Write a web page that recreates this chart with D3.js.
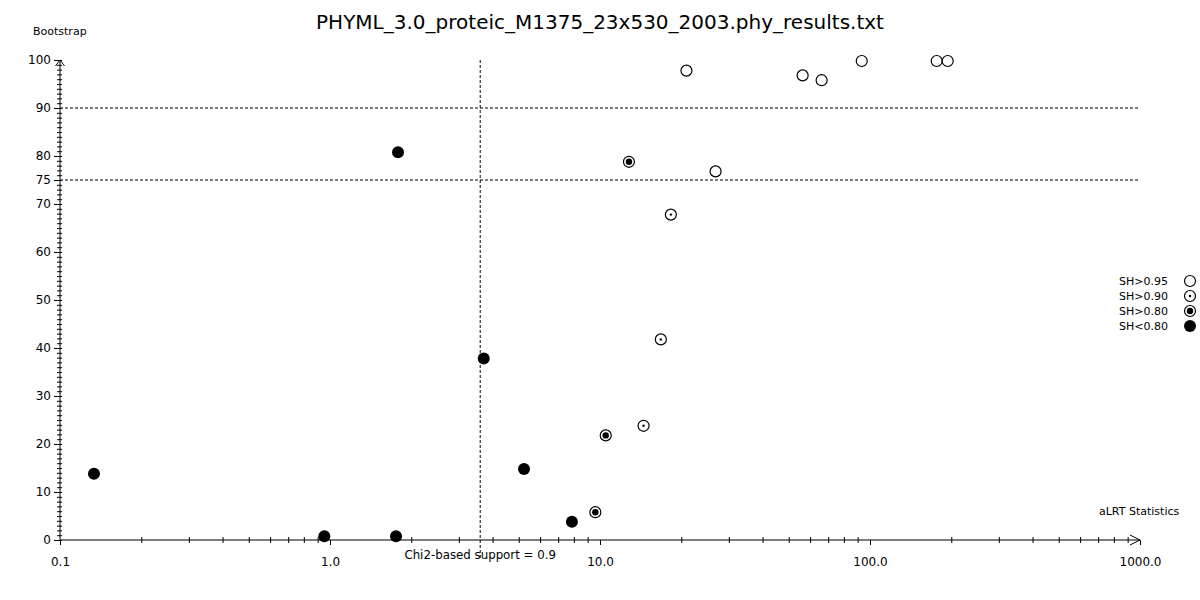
<!DOCTYPE html>
<html>
<head>
<meta charset="utf-8">
<script src="https://cdn.jsdelivr.net/npm/d3@7"></script>
<style>
  body { margin: 0; background: #fff; }
  text { font-family: "DejaVu Sans", sans-serif; fill: #000; }
</style>
</head>
<body>
<div id="chart"></div>
<script>
// data
const title = "PHYML_3.0_proteic_M1375_23x530_2003.phy_results.txt";
const classes = ["SH>0.95", "SH>0.90", "SH>0.80", "SH<0.80"];
const alrt = [0.1336, 0.953, 1.756, 1.786, 3.71, 5.23, 7.87,
              9.61, 10.5, 12.8,
              14.5, 16.8, 18.3,
              20.9, 26.8, 56.3, 66.2, 93.2, 176.6, 194];
const bootstrap = [14, 1, 1, 81, 38, 15, 4,
                   6, 22, 79,
                   24, 42, 68,
                   98, 77, 97, 96, 100, 100, 100];
const shClass = ["SH<0.80", "SH<0.80", "SH<0.80", "SH<0.80", "SH<0.80", "SH<0.80", "SH<0.80",
                 "SH>0.80", "SH>0.80", "SH>0.80",
                 "SH>0.90", "SH>0.90", "SH>0.90",
                 "SH>0.95", "SH>0.95", "SH>0.95", "SH>0.95", "SH>0.95", "SH>0.95", "SH>0.95"];
const yTicks = [0, 10, 20, 30, 40, 50, 60, 70, 75, 80, 90, 100];
const xTicks = [0.1, 1, 10, 100, 1000];
const bootLines = [90, 75];
const chi2Cut = 3.60;

//set dimensions
const width = 1200,
    height = 600;

const svg = d3.select("#chart")
    .append("svg")
    .attr("width", width)
    .attr("height", height);

// scales
const x = d3.scaleLog().domain([0.1, 1000]).range([60, 1140]);
const y = d3.scaleLinear().domain([0, 100]).range([540, 60]);

// title + axis names
svg.append("text")
    .attr("x", 600).attr("y", 29)
    .attr("text-anchor", "middle")
    .style("font-size", "20px")
    .text(title);
svg.append("text").attr("x", 33).attr("y", 35).style("font-size", "11px").text("Bootstrap");
svg.append("text").attr("x", 1099).attr("y", 515).style("font-size", "11px").text("aLRT Statistics");

// dashed threshold lines
svg.selectAll(".hline")
    .data(bootLines)
    .enter().append("line")
    .attr("x1", x(0.1)).attr("x2", x(1000))
    .attr("y1", d => y(d)).attr("y2", d => y(d))
    .attr("stroke", "#000").attr("stroke-dasharray", "3,2");
svg.append("line")
    .attr("x1", x(chi2Cut)).attr("x2", x(chi2Cut))
    .attr("y1", y(100)).attr("y2", 560)
    .attr("stroke", "#000").attr("stroke-dasharray", "3,2");
svg.append("text")
    .attr("x", x(chi2Cut)).attr("y", 559)
    .attr("text-anchor", "middle")
    .style("font-size", "11.8px")
    .text("Chi2-based support = 0.9");

// y axis
const yAxis = svg.append("g")
    .attr("transform", "translate(60,0)")
    .call(d3.axisLeft(y).tickValues(yTicks).tickSize(6).tickPadding(3));
svg.append("g")
    .attr("transform", "translate(62,0)")
    .call(d3.axisLeft(y).tickValues(d3.range(0, 101)).tickSize(5).tickFormat(""))
    .select(".domain").remove();

// x axis
const xAxis = svg.append("g")
    .attr("transform", "translate(0,540)")
    .call(d3.axisBottom(x).tickValues(xTicks).tickSize(5).tickPadding(12).tickFormat(d3.format(".1f")));
const minorX = [];
[0.1, 1, 10, 100].forEach(dec => d3.range(2, 10).forEach(k => minorX.push(dec * k)));
svg.append("g")
    .attr("transform", "translate(0,537)")
    .call(d3.axisBottom(x).tickValues(minorX).tickSize(6).tickFormat(""))
    .select(".domain").remove();

svg.selectAll(".tick text").style("font-size", "12px").style("font-family", "DejaVu Sans, sans-serif");
yAxis.select(".domain").remove();
xAxis.select(".domain").remove();

// axis lines with arrows
svg.append("path")
    .attr("d", `M60,540V${y(100)} M55.5,${y(100) + 6}L60,${y(100)}L64.5,${y(100) + 6}`)
    .attr("fill", "none").attr("stroke", "#000");
svg.append("path")
    .attr("d", `M60,540H${x(1000)} M${x(1000) - 10},535L${x(1000)},540L${x(1000) - 10},545`)
    .attr("fill", "none").attr("stroke", "#000");

// symbols for each SH class
function drawMark(g, cls) {
    if (cls === "SH<0.80") {
        g.append("circle").attr("r", 6).attr("fill", "#000");
        return;
    }
    g.append("circle").attr("r", 5.5).attr("fill", "#fff").attr("stroke", "#000").attr("stroke-width", 1.2);
    if (cls === "SH>0.90") g.append("circle").attr("r", 1.2).attr("fill", "#000");
    if (cls === "SH>0.80") g.append("circle").attr("r", 3.2).attr("fill", "#000");
}

// points (the original draws them about a pixel low)
const dataset = alrt.map((a, i) => ({ a: a, b: bootstrap[i], c: shClass[i] }));
svg.selectAll(".pt")
    .data(dataset)
    .enter().append("g")
    .attr("class", "pt")
    .attr("transform", d => `translate(${x(d.a)},${y(d.b) + 1})`)
    .each(function (d) { drawMark(d3.select(this), d.c); });

// legend
const legend = svg.selectAll(".leg")
    .data(classes)
    .enter().append("g")
    .attr("class", "leg")
    .attr("transform", (d, i) => `translate(0,${281 + i * 15})`);
legend.append("text")
    .attr("x", 1119).attr("y", 4)
    .style("font-size", "11px")
    .text(d => d);
legend.append("g")
    .attr("transform", "translate(1190,0)")
    .each(function (d) { drawMark(d3.select(this), d); });
</script>
</body>
</html>
